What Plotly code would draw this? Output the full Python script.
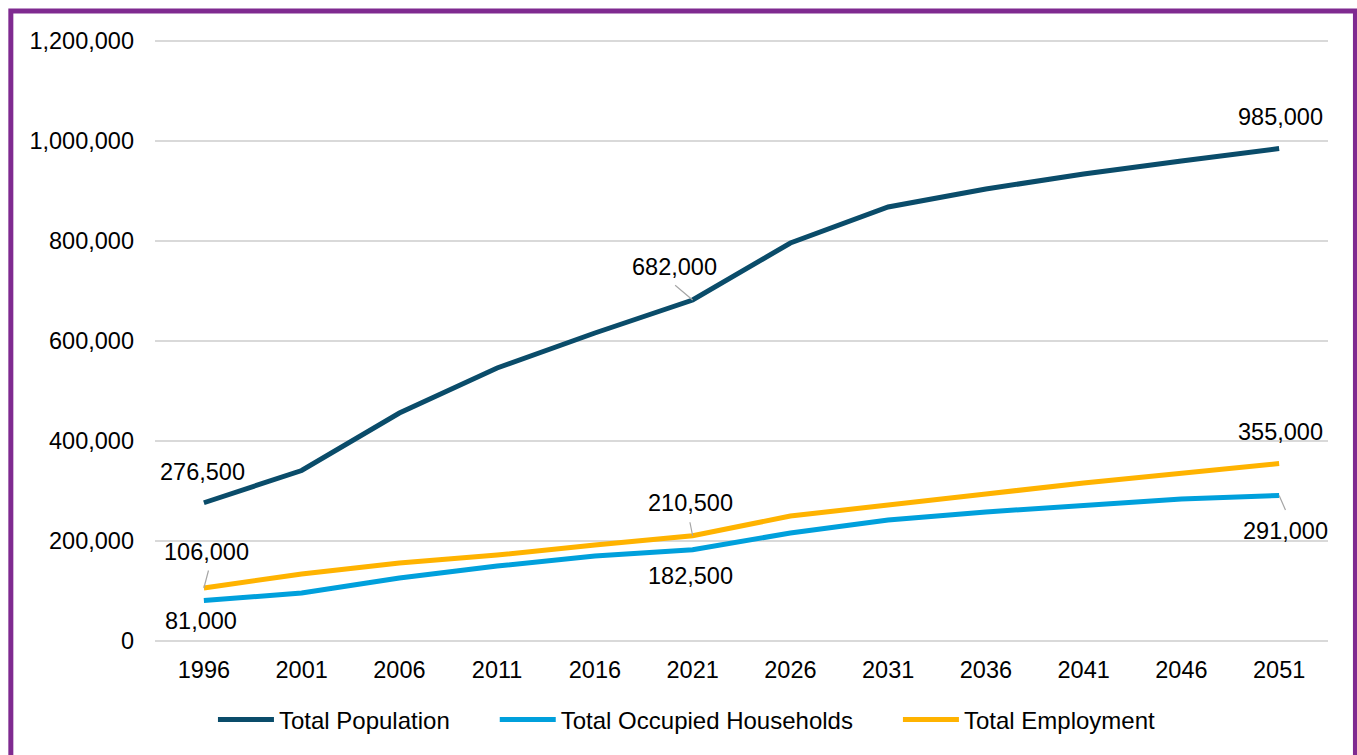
import plotly.graph_objects as go

years = ["1996", "2001", "2006", "2011", "2016", "2021", "2026", "2031", "2036", "2041", "2046", "2051"]
population = [276500, 341000, 456000, 546000, 616000, 682000, 796000, 868000, 904000, 934000, 960000, 985000]
households = [81000, 96000, 126000, 150000, 170000, 182500, 216000, 242000, 258000, 272000, 284000, 291000]
employment = [106000, 134000, 156000, 172000, 192000, 210500, 250000, 273000, 294000, 316000, 336000, 355000]

series_names = ["Total Population", "Total Occupied Households", "Total Employment"]
series_colors = ["#0A4C6A", "#00A0DC", "#FFB300"]

y_ticks = [0, 200000, 400000, 600000, 800000, 1000000, 1200000]

FONT = "Liberation Sans, Arial, sans-serif"
FS = 23.5
PAD = "\u00a0" * 6  # spacing between legend entries
GRID = "#D9D9D9"

fig = go.Figure()
for k, (name, vals, col) in enumerate(zip(series_names, [population, households, employment], series_colors)):
    fig.add_trace(go.Scatter(
        x=years, y=vals,
        name=name + (PAD if k < len(series_names) - 1 else ""),
        mode="lines",
        line=dict(color=col, width=5),
        hoverinfo="skip",
    ))

# value labels: (series values, index, x shift, y shift, leader offset or None)
labels = [
    (population, 0, -1, 31, None),
    (employment, 0, 3, 36, (5, -19)),
    (households, 0, -3, -20, None),
    (population, 5, -18, 33, (-19, -16)),
    (employment, 5, -2, 33, (-3, -15)),
    (households, 5, -2, -26, None),
    (population, 11, 1, 32, None),
    (employment, 11, 1, 32, None),
    (households, 11, 6, -35, (7, 16)),
]

for vals, i, dx, dy, leader in labels:
    fig.add_annotation(
        x=i, y=vals[i], text=f"{vals[i]:,}",
        showarrow=False, xshift=dx, yshift=dy,
        font=dict(family=FONT, size=FS, color="#000000"),
    )
    if leader is not None:
        fig.add_annotation(
            x=i, y=vals[i], text="",
            showarrow=True, arrowhead=0, arrowwidth=1.2, arrowcolor="#A6A6A6",
            ax=leader[0], ay=leader[1], standoff=0,
        )

# purple frame around the chart
fig.add_shape(
    type="rect", xref="paper", yref="paper",
    x0=-0.1229, x1=1.0234, y0=-0.25, y1=1.0464,
    line=dict(color="#7F2A90", width=5), fillcolor="rgba(0,0,0,0)",
    layer="below",
)

fig.update_layout(
    width=1357, height=755,
    margin=dict(l=155, r=29, t=39, b=112),
    paper_bgcolor="white", plot_bgcolor="white",
    font=dict(family=FONT, size=FS, color="#000000"),
    showlegend=True,
    legend=dict(
        orientation="h", x=0.4535, xanchor="center", y=-0.1275, yanchor="middle",
        font=dict(family=FONT, size=24, color="#000000"),
        itemwidth=56, traceorder="normal",
    ),
    xaxis=dict(
        type="category", range=[-0.5, len(years) - 0.5],
        showgrid=False, zeroline=False, showline=False,
        ticks="", ticklabelstandoff=10,
        tickfont=dict(family=FONT, size=FS),
        fixedrange=True,
    ),
    yaxis=dict(
        range=[-4000, 1204000], tickvals=y_ticks,
        ticktext=[f"{v:,}" for v in y_ticks],
        showgrid=True, gridcolor=GRID, gridwidth=1.5,
        zeroline=True, zerolinecolor=GRID, zerolinewidth=1.5,
        showline=False, ticks="",
        ticklabelstandoff=20,
        tickfont=dict(family=FONT, size=FS),
        fixedrange=True,
    ),
)

fig.write_html("out.html")
